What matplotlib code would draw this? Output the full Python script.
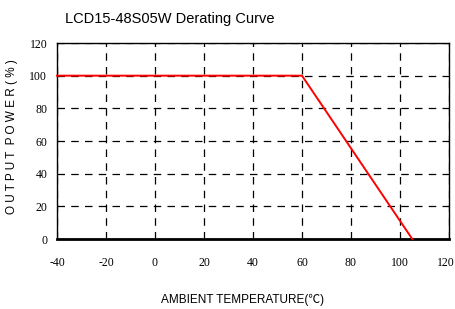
import matplotlib
matplotlib.use("Agg")
import matplotlib.pyplot as plt
import matplotlib.transforms as mtransforms

plt.rcParams['axes.unicode_minus'] = False

temps = [-40, 60, 105]
power = [100, 100, 0]
xticks = [-40, -20, 0, 20, 40, 60, 80, 100, 120]
yticks = [0, 20, 40, 60, 80, 100, 120]

fig = plt.figure(figsize=(4.56, 3.09), dpi=100)
ax = fig.add_axes([57/456, 1-239/309, (449-57)/456, (239-43)/309])
ax.plot(temps, power, color='#ff0000', lw=1.4, zorder=3, clip_on=False)
ax.set_xlim(-40, 120)
ax.set_ylim(0, 120)
ax.set_xticks(xticks)
ax.set_yticks(yticks)
ax.grid(True, color='black', linestyle=(0, (6, 5)), lw=0.9)
ax.tick_params(length=0)
for lab in ax.get_xticklabels() + ax.get_yticklabels():
    lab.set_family('Liberation Serif')
    lab.set_fontsize(8.5)
ax.tick_params(axis='x', pad=13)
ax.tick_params(axis='y', pad=7)
last = ax.get_xticklabels()[-1]
last.set_transform(last.get_transform() + mtransforms.ScaledTranslation(-3/100, 0, fig.dpi_scale_trans))
for s in ['left', 'right', 'top']:
    ax.spines[s].set_linewidth(1.0)
ax.spines['bottom'].set_linewidth(2.0)
fig.text(65/456, 1-19/309, 'LCD15-48S05W Derating Curve', family='Liberation Sans', fontsize=10.5, va='center', ha='left')
fig.text(243/456, 1-300/309, 'AMBIENT TEMPERATURE(℃)', family=['Liberation Sans', 'Noto Sans CJK SC'], fontsize=8.5, va='center', ha='center')
fig.text(12/456, 1-137/309, 'O U T P U T  P O W E R ( % )', family='Liberation Sans', fontsize=8.5, va='center', ha='center', rotation=90)
fig.savefig('out.png', dpi=100)
